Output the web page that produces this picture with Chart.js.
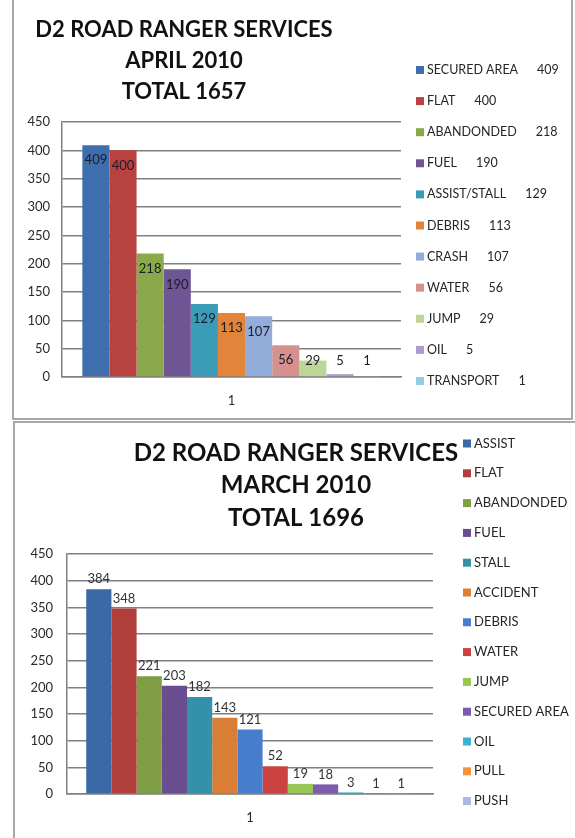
<!DOCTYPE html>
<html>
<head>
<meta charset="utf-8">
<script src="https://cdn.jsdelivr.net/npm/chart.js@4"></script>
<style>
  body { margin: 0; background: #fff; width: 575px; height: 838px; overflow: hidden; position: relative; }
  .frame { position: absolute; border: 2px solid #a8a8a8; box-sizing: border-box; }
  canvas { position: absolute; left: 0; }
</style>
</head>
<body>
<div class="frame" style="left:12px; top:-10px; width:561px; height:430px;"></div>
<div class="frame" style="left:13px; top:421px; width:600px; height:500px;"></div>
<canvas id="aprilChart" width="575" height="419" style="top:0px"></canvas>
<canvas id="marchChart" width="575" height="416" style="top:422px"></canvas>
<script>
// D2 Road Ranger Services - April vs March 2010, one bar per service type

const aprilTitle = ["D2 ROAD RANGER SERVICES", "APRIL 2010", "TOTAL 1657"];
const aprilCategories = ["SECURED AREA", "FLAT", "ABANDONDED", "FUEL", "ASSIST/STALL",
    "DEBRIS", "CRASH", "WATER", "JUMP", "OIL", "TRANSPORT"];
const aprilValues = [409, 400, 218, 190, 129, 113, 107, 56, 29, 5, 1];
const aprilColors = ["#3e6eae", "#b8423f", "#89a94a", "#6e5594", "#3a9cb6", "#e3843b",
    "#93acda", "#d6918f", "#bdd597", "#ad9ccb", "#93cdde"];

const marchTitle = ["D2 ROAD RANGER SERVICES", "MARCH 2010", "TOTAL 1696"];
const marchCategories = ["ASSIST", "FLAT", "ABANDONDED", "FUEL", "STALL", "ACCIDENT",
    "DEBRIS", "WATER", "JUMP", "SECURED AREA", "OIL", "PULL", "PUSH"];
const marchValues = [384, 348, 221, 203, 182, 143, 121, 52, 19, 18, 3, 1, 1];
const marchColors = ["#3b69a7", "#b03e3b", "#7f9e44", "#6a4d8e", "#3591a9", "#da7e35",
    "#477ecb", "#cc4240", "#99c555", "#7c5cad", "#3db2cf", "#f7933c", "#a8badf"];

const xLabels = ["1"];
const yMin = 0, yMax = 450, yStep = 50;

const FONT = "Lato, 'Open Sans', sans-serif";

// title + legend + value labels, drawn on top of the chart
function overlayPlugin(cfg) {
    return {
        id: "overlay",
        afterDatasetsDraw(chart) {
            const ctx = chart.ctx;
            ctx.save();

            // value labels
            ctx.font = "13px " + FONT;
            ctx.fillStyle = cfg.labelColor;
            ctx.textAlign = "center";
            ctx.textBaseline = "middle";
            chart.data.datasets.forEach(function(ds, i) {
                const bar = chart.getDatasetMeta(i).data[0];
                if (!bar) return;
                let y;
                if (cfg.inside) {
                    y = Math.min(bar.y + 15, bar.base - 15);
                } else {
                    y = bar.y - 10;
                }
                ctx.fillText(String(ds.data[0]), bar.x, y);
            });

            // title
            ctx.font = "bold " + cfg.titleSize + "px " + FONT;
            ctx.fillStyle = "#111";
            cfg.title.forEach(function(line, i) {
                ctx.fillText(line, cfg.titleX, cfg.titleY + i * cfg.titleGap);
            });

            // legend
            ctx.font = cfg.legendSize + "px " + FONT;
            ctx.textAlign = "left";
            chart.data.datasets.forEach(function(ds, i) {
                const y = cfg.legendY + i * cfg.legendGap;
                ctx.fillStyle = ds.backgroundColor;
                ctx.fillRect(cfg.legendX, y - 4, 8, 8);
                ctx.fillStyle = "#262626";
                ctx.fillText(ds.label, cfg.legendX + 11, y);
                if (cfg.legendValues) {
                    const w = ctx.measureText(ds.label).width;
                    ctx.fillText(String(ds.data[0]), cfg.legendX + 11 + w + 19, y);
                }
            });
            ctx.restore();
        }
    };
}

function makeChart(id, cats, vals, colors, opts) {
    const datasets = cats.map(function(c, i) {
        return {
            label: c,
            data: [vals[i]],
            backgroundColor: colors[i],
            borderWidth: 0,
            categoryPercentage: opts.catPct,
            barPercentage: 1.0
        };
    });
    return new Chart(document.getElementById(id), {
        type: "bar",
        data: { labels: xLabels, datasets: datasets },
        options: {
            responsive: false,
            animation: false,
            layout: { padding: opts.padding },
            scales: {
                x: {
                    grid: { display: false },
                    border: { display: true, color: "#808080", width: 1.5 },
                    ticks: { color: "#2a2a2a", font: { family: FONT, size: 13 }, padding: 8 },
                    afterFit: function(scale) { scale.height = opts.xHeight; }
                },
                y: {
                    min: yMin,
                    max: yMax,
                    ticks: { stepSize: yStep, color: "#2a2a2a", font: { family: FONT, size: 13 }, padding: opts.yPad },
                    grid: { color: "#808080", lineWidth: 1.5, drawTicks: false },
                    border: { display: true, color: "#808080", width: 1.5 },
                    afterFit: function(scale) { scale.width = opts.yWidth; }
                }
            },
            plugins: {
                legend: { display: false },
                title: { display: false },
                tooltip: { enabled: false }
            }
        },
        plugins: [overlayPlugin(opts.overlay)]
    });
}

makeChart("aprilChart", aprilCategories, aprilValues, aprilColors, {
    catPct: 0.88,
    padding: { left: 0, right: 174, top: 122, bottom: 0 },
    xHeight: 42,
    yWidth: 62,
    yPad: 12,
    overlay: {
        inside: true, labelColor: "#1c1c2a",
        title: aprilTitle, titleSize: 22, titleX: 184, titleY: 30, titleGap: 31,
        legendX: 416, legendY: 70, legendGap: 31.1, legendSize: 12.5, legendValues: true
    }
});

makeChart("marchChart", marchCategories, marchValues, marchColors, {
    catPct: 0.895,
    padding: { left: 0, right: 142, top: 132, bottom: 0 },
    xHeight: 44,
    yWidth: 67,
    yPad: 14,
    overlay: {
        inside: false, labelColor: "#333",
        title: marchTitle, titleSize: 24, titleX: 296, titleY: 31, titleGap: 32.5,
        legendX: 463, legendY: 21.5, legendGap: 29.8, legendSize: 13, legendValues: false
    }
});
</script>
</body>
</html>
